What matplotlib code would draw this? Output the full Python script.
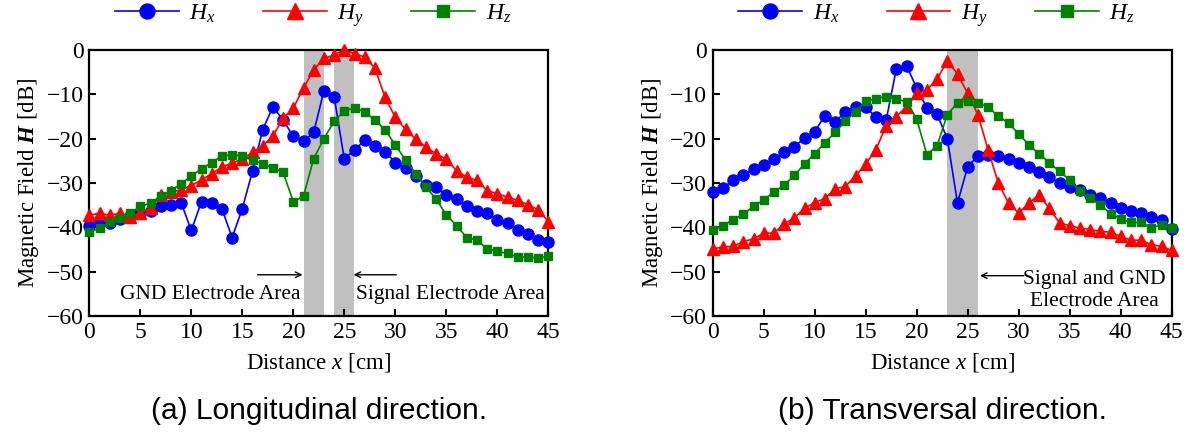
import numpy as np
import matplotlib
matplotlib.use("Agg")
import matplotlib.pyplot as plt

plt.rcParams['font.family'] = ['Liberation Serif', 'DejaVu Serif']
plt.rcParams['mathtext.fontset'] = 'custom'
plt.rcParams['mathtext.rm'] = 'Liberation Serif'
plt.rcParams['mathtext.it'] = 'Liberation Serif:italic'
plt.rcParams['mathtext.bf'] = 'Liberation Serif:bold'
plt.rcParams['mathtext.bfit'] = 'Liberation Serif:italic:bold'

distance = list(range(46))

# (a) Longitudinal direction
long_hx = [-39.8, -38.9, -39.0, -38.1, -37.4, -36.8, -36.4, -35.3, -34.9, -34.4,
           -40.7, -34.2, -34.4, -35.8, -42.3, -35.8, -27.3, -18.0, -12.8, -15.8,
           -19.5, -20.6, -18.6, -9.2, -10.5, -24.6, -22.5, -20.4, -21.6, -22.9,
           -25.4, -26.6, -28.5, -30.4, -30.9, -32.7, -33.6, -35.1, -36.4, -36.8,
           -38.4, -39.0, -40.7, -41.5, -42.9, -43.2]
long_hy = [-37.3, -36.8, -37.3, -36.8, -37.7, -36.8, -35.7, -32.7, -32.1, -31.5,
           -30.6, -29.3, -27.9, -26.4, -25.5, -24.6, -23.1, -21.6, -19.4, -15.4,
           -13.1, -8.6, -4.5, -1.9, -1.1, 0.0, -0.8, -1.6, -4.1, -10.7,
           -15.2, -17.9, -20.1, -21.9, -23.4, -24.6, -27.2, -28.7, -29.4, -31.7,
           -32.4, -33.2, -33.9, -34.9, -36.0, -38.7]
long_hz = [-41.1, -40.2, -38.9, -37.8, -36.8, -35.3, -34.5, -33.0, -31.7, -30.2,
           -28.4, -26.8, -25.4, -23.9, -23.7, -23.9, -24.9, -25.7, -26.6, -27.6,
           -34.2, -33.0, -24.5, -20.0, -16.1, -13.7, -13.1, -13.9, -15.8, -18.0,
           -21.4, -24.8, -27.9, -30.9, -33.6, -37.2, -39.6, -42.3, -42.9, -44.8,
           -45.4, -45.9, -46.7, -46.7, -46.9, -46.5]

# (b) Transversal direction
trans_hx = [-32.1, -31.2, -29.3, -28.1, -26.9, -25.9, -24.6, -22.9, -21.8, -19.9,
            -18.4, -14.8, -16.3, -13.9, -12.8, -12.8, -15.2, -15.9, -4.3, -3.5,
            -8.6, -13.0, -14.5, -20.0, -34.5, -26.3, -23.9, -23.6, -23.9, -24.6,
            -25.4, -26.4, -27.6, -28.7, -30.0, -30.9, -31.5, -32.7, -33.4, -34.4,
            -35.7, -36.4, -36.8, -37.7, -38.4, -40.4]
trans_hy = [-44.9, -44.4, -44.3, -43.2, -42.6, -41.3, -41.3, -39.2, -37.9, -35.7,
            -34.4, -33.5, -31.3, -30.8, -28.4, -25.7, -22.5, -17.1, -15.0, -12.8,
            -9.8, -9.0, -6.6, -2.4, -5.4, -9.8, -14.6, -22.5, -30.0, -34.5,
            -36.8, -34.5, -32.7, -35.7, -39.0, -39.6, -40.2, -40.5, -40.9, -41.1,
            -42.0, -42.9, -42.9, -43.9, -44.3, -45.2]
trans_hz = [-40.7, -39.6, -38.3, -37.0, -35.3, -33.8, -32.0, -30.5, -28.3, -25.7,
            -23.4, -20.9, -18.6, -16.1, -13.9, -11.6, -11.0, -10.5, -11.0, -11.7,
            -15.6, -23.6, -21.6, -14.6, -11.9, -11.4, -11.9, -12.9, -14.9, -16.5,
            -18.9, -21.4, -23.4, -25.4, -27.4, -29.3, -31.9, -33.4, -34.9, -36.9,
            -38.1, -38.9, -38.9, -40.2, -39.4, -40.2]

long_spans = [(21, 23), (24, 26)]
trans_spans = [(23, 26)]

series_labels = [r'$H_x$', r'$H_y$', r'$H_z$']
captions = ['(a) Longitudinal direction.', '(b) Transversal direction.']

W, H = 1190, 436
fig = plt.figure(figsize=(W / 100, H / 100), dpi=100)

ax_l = fig.add_axes([89.3 / W, 1 - 316 / H, 459 / W, 266 / H])
ax_r = fig.add_axes([712.7 / W, 1 - 316 / H, 459 / W, 266 / H])

styles = [
    dict(color='#0000ff', marker='o', markersize=8),
    dict(color='#ff0000', marker='^', markersize=9),
    dict(color='#008000', marker='s', markersize=6),
]


def draw(ax, data, spans):
    for a, b in spans:
        ax.axvspan(a, b, color='#c0c0c0', lw=0, zorder=0)
    handles = []
    for ys, st, lab in zip(data, styles, series_labels):
        h, = ax.plot(distance, ys, lw=1.2, label=lab, zorder=3, clip_on=False, **st)
        handles.append(h)
    ax.set_xlim(0, 45)
    ax.set_ylim(-60, 0)
    ax.set_xticks(range(0, 46, 5))
    ax.set_yticks(range(-60, 1, 10))
    ax.tick_params(direction='in', length=5, width=1.5, labelsize=17,
                   top=False, right=False, pad=4)
    for s in ax.spines.values():
        s.set_linewidth(1.6)
    ax.set_xlabel(r'Distance $x$ [cm]', fontsize=16.5, labelpad=6)
    ax.set_ylabel(r'Magnetic Field $\mathbfit{H}$ [dB]', fontsize=16.5, labelpad=4)
    ax.legend(handles=handles, loc='center left', bbox_to_anchor=(0.056, 1.13),
              ncol=3, frameon=False, fontsize=17, handlelength=2.7,
              handletextpad=0.45, columnspacing=2.0, borderpad=0,
              borderaxespad=0, markerscale=1.35)


draw(ax_l, [long_hx, long_hy, long_hz], long_spans)
draw(ax_r, [trans_hx, trans_hy, trans_hz], trans_spans)

arrow = dict(arrowstyle='->', color='black', lw=1.0, shrinkA=0, shrinkB=0)
ax_l.annotate('', xy=(20.9, -50.7), xytext=(16.5, -50.7), arrowprops=arrow)
ax_l.text(20.7, -55.2, 'GND Electrode Area', ha='right', va='center', fontsize=15.5)
ax_l.annotate('', xy=(25.9, -50.7), xytext=(30.1, -50.7), arrowprops=arrow)
ax_l.text(26.1, -55.2, 'Signal Electrode Area', ha='left', va='center', fontsize=15.5)

ax_r.annotate('', xy=(26.2, -50.9), xytext=(30.5, -50.9), arrowprops=arrow)
ax_r.text(37.4, -54.2, 'Signal and GND\nElectrode Area', ha='center', va='center',
          multialignment='center', fontsize=15.5, linespacing=1.25)

fig.text(318.8 / W, 1 - 411 / H, captions[0], ha='center', va='center',
         fontsize=21.5, family='Liberation Sans')
fig.text(942.2 / W, 1 - 411 / H, captions[1], ha='center', va='center',
         fontsize=21.5, family='Liberation Sans')

fig.savefig('out.png', dpi=100)
